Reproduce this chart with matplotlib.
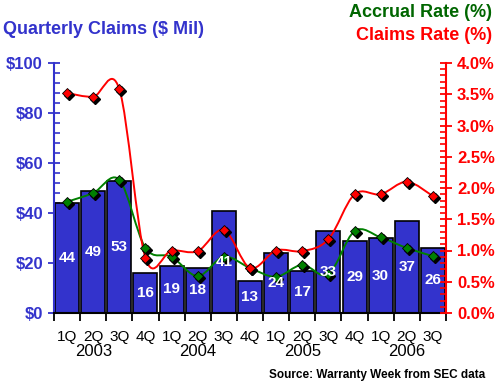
import numpy as np
import matplotlib
matplotlib.use("Agg")
import matplotlib.pyplot as plt
import matplotlib.ticker as ticker
from matplotlib.path import Path
from matplotlib.patches import PathPatch
from matplotlib.transforms import ScaledTranslation, blended_transform_factory

# ----------------------------------------------------------------------------
# Data
# ----------------------------------------------------------------------------
quarters = ["1Q", "2Q", "3Q", "4Q"] * 3 + ["1Q", "2Q", "3Q"]
years = ["2003", "2004", "2005", "2006"]
claims_mil = [44, 49, 53, 16, 19, 18, 41, 13, 24, 17, 33, 29, 30, 37, 26]
claims_rate = [3.52, 3.46, 3.58, 0.88, 1.00, 0.99, 1.33, 0.72,
               1.00, 0.99, 1.18, 1.90, 1.90, 2.10, 1.87]
accrual_rate = [1.78, 1.92, 2.13, 1.04, 0.90, 0.59, 0.90, 0.72,
                0.58, 0.77, 0.62, 1.31, 1.21, 1.04, 0.91]

BLUE = "#3333CC"
RED = "#FF0000"
GREEN = "#007700"
FONT = "Liberation Sans"

plt.rcParams['font.family'] = [FONT, 'DejaVu Sans']


def smooth_path(xs, ys):
    # Excel-style smoothed line: cubic bezier through every point
    pts = np.column_stack([xs, ys]).astype(float)
    ext = np.vstack([pts[0], pts, pts[-1]])
    verts = [pts[0]]
    codes = [Path.MOVETO]
    for i in range(len(pts) - 1):
        p0, p1, p2, p3 = ext[i], ext[i + 1], ext[i + 2], ext[i + 3]
        verts += [p1 + (p2 - p0) / 6, p2 - (p3 - p1) / 6, p2]
        codes += [Path.CURVE4] * 3
    return Path(verts, codes)


fig = plt.figure(figsize=(4.99, 3.83), dpi=100)
ax = fig.add_axes([54 / 499, 1 - 313 / 383, (446 - 54) / 499, 250 / 383])
ax2 = ax.twinx()

x = np.arange(len(claims_mil))

# Bars
ax.bar(x, claims_mil, width=0.92, color=BLUE, edgecolor="black", linewidth=1.2, zorder=2)
ax.set_xlim(-0.5, len(x) - 0.5)
ax.set_ylim(0, 100)
ax2.set_ylim(0, 4.0)

# Lines with shadowed diamond markers
shadow = ax2.transData + ScaledTranslation(2 / 100, -2 / 100, fig.dpi_scale_trans)
for vals, col in [(accrual_rate, "#008000"), (claims_rate, RED)]:
    ax2.add_patch(PathPatch(smooth_path(x, vals), facecolor="none", edgecolor=col,
                            linewidth=1.4, zorder=3))
    ax2.plot(x, vals, linestyle="none", marker="D", markersize=5.5, color="black",
             transform=shadow, zorder=4)
    ax2.plot(x, vals, linestyle="none", marker="D", markersize=5.5, markerfacecolor=col,
             markeredgecolor="black", markeredgewidth=0.6, zorder=5)

# Value labels inside bars
for xi, v in zip(x, claims_mil):
    ax2.text(xi, v / 2, str(v), transform=ax.transData, ha="center", va="center",
             color="white", fontsize=11, fontweight="bold", zorder=10)

# Spines
ax.spines["top"].set_visible(False)
ax2.spines["top"].set_visible(False)
ax.spines["right"].set_visible(False)
ax2.spines["left"].set_visible(False)
ax2.spines["bottom"].set_visible(False)
ax.spines["left"].set_color(BLUE)
ax.spines["left"].set_linewidth(1.5)
ax2.spines["right"].set_color(RED)
ax2.spines["right"].set_linewidth(1.5)
ax.spines["bottom"].set_linewidth(1.5)

# Left axis ticks
ax.yaxis.set_major_locator(ticker.MultipleLocator(20))
ax.yaxis.set_minor_locator(ticker.MultipleLocator(4))
ax.yaxis.set_major_formatter(ticker.FuncFormatter(lambda v, p: f"${v:.0f}"))
ax.tick_params(axis="y", which="major", direction="inout", length=8, width=1.3,
               color=BLUE, labelcolor=BLUE, labelsize=12, pad=4)
ax.tick_params(axis="y", which="minor", direction="in", length=4, width=1.2, color=BLUE)

# Right axis ticks
ax2.yaxis.set_major_locator(ticker.MultipleLocator(0.5))
ax2.yaxis.set_minor_locator(ticker.MultipleLocator(0.1))
ax2.yaxis.set_major_formatter(ticker.FuncFormatter(lambda v, p: f"{v:.1f}%"))
ax2.tick_params(axis="y", which="major", direction="inout", length=8, width=1.3,
                color=RED, labelcolor=RED, labelsize=12, pad=4)
ax2.tick_params(axis="y", which="minor", direction="in", length=4, width=1.2, color=RED)
for lbl in ax.get_yticklabels() + ax2.get_yticklabels():
    lbl.set_fontweight("bold")

# X axis: labels at bar centres, tick marks at bar boundaries
ax.set_xticks(x)
ax.set_xticklabels(quarters)
ax.set_xticks(np.arange(-0.5, len(x)), minor=True)
ax.tick_params(axis="x", which="major", length=0, labelsize=11, pad=12)
ax.tick_params(axis="x", which="minor", direction="out", length=6, width=1.3)

trans = blended_transform_factory(ax.transData, fig.transFigure)
for i, yr in enumerate(years):
    ax.text(1 + 4 * i, 1 - 352 / 383, yr, transform=trans, ha="center", va="center",
            fontsize=12)

# Titles
fig.text(3 / 499, 1 - 34 / 383, "Quarterly Claims ($ Mil)", color=BLUE, fontsize=13,
         fontweight="bold", ha="left", va="baseline")
fig.text(492 / 499, 1 - 17 / 383, "Accrual Rate (%)", color="#006600", fontsize=13,
         fontweight="bold", ha="right", va="baseline")
fig.text(492 / 499, 1 - 40 / 383, "Claims Rate (%)", color=RED, fontsize=13,
         fontweight="bold", ha="right", va="baseline")
fig.text(485 / 499, 1 - 378 / 383, "Source: Warranty Week from SEC data", color="black",
         fontsize=8.5, fontweight="bold", ha="right", va="baseline")

fig.savefig("out.png", dpi=100)
